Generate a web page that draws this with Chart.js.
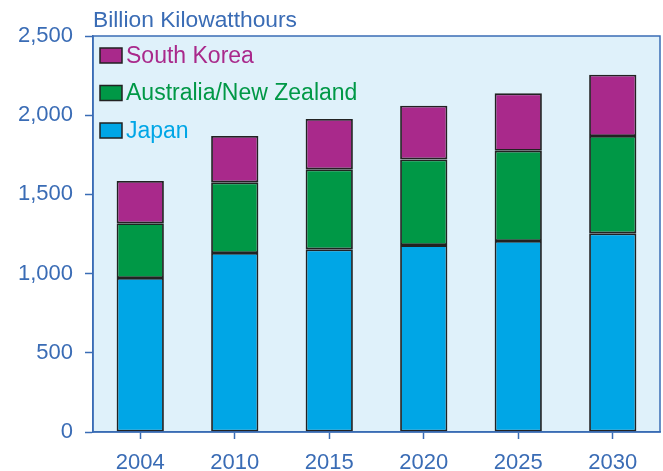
<!DOCTYPE html>
<html>
<head>
<meta charset="utf-8">
<script src="https://cdn.jsdelivr.net/npm/chart.js@4/dist/chart.umd.min.js"></script>
<style>
  html, body { margin: 0; padding: 0; background: #fff; }
  #wrap { width: 663px; height: 471px; position: relative; }
</style>
</head>
<body>
<div id="wrap"><canvas id="mychart" width="663" height="471"></canvas></div>
<script>
var years = ['2004', '2010', '2015', '2020', '2025', '2030'];
var japan = [972, 1130, 1153, 1180, 1206, 1254];
var ausNz = [346, 446, 505, 541, 570, 615];
var southKorea = [267, 293, 318, 339, 362, 387];
var yTicks = [0, 500, 1000, 1500, 2000, 2500];

var axisBlue = '#3a6cb5';
var font = 'Arial, "Liberation Sans", sans-serif';

// light blue plot background plus the frame round it
var plotFrame = {
    id: 'plotFrame',
    beforeDraw: function(chart) {
        var a = chart.chartArea, ctx = chart.ctx;
        ctx.save();
        ctx.fillStyle = '#dff1fa';
        ctx.fillRect(a.left, a.top, a.right - a.left, a.bottom - a.top);
        ctx.restore();
    },
    afterDraw: function(chart) {
        var a = chart.chartArea, ctx = chart.ctx;
        ctx.save();
        ctx.strokeStyle = axisBlue;
        ctx.lineWidth = 1.5;
        ctx.strokeRect(a.left, a.top, a.right - a.left, a.bottom - a.top);
        // unit label above the axis
        ctx.fillStyle = axisBlue;
        ctx.font = '22.8px ' + font;
        ctx.textBaseline = 'alphabetic';
        ctx.fillText('Billion Kilowatthours', a.left, 27);
        ctx.restore();
    }
};

// legend drawn inside the plot, top series first
var innerLegend = {
    id: 'innerLegend',
    afterDatasetsDraw: function(chart) {
        var a = chart.chartArea, ctx = chart.ctx;
        var sets = chart.data.datasets.slice().reverse();
        ctx.save();
        ctx.font = '23px ' + font;
        ctx.textBaseline = 'middle';
        sets.forEach(function(ds, i) {
            var y = a.top + 12 + i * 37.5;
            ctx.fillStyle = ds.backgroundColor;
            ctx.fillRect(a.left + 7, y, 22, 15);
            ctx.strokeStyle = '#222';
            ctx.lineWidth = 1.5;
            ctx.strokeRect(a.left + 7, y, 22, 15);
            ctx.fillStyle = ds.backgroundColor;
            ctx.fillText(ds.label, a.left + 33, y + 8.5);
        });
        ctx.restore();
    }
};

function series(label, data, color) {
    return {
        label: label,
        data: data,
        backgroundColor: color,
        borderColor: '#222',
        borderWidth: 1.8,
        borderSkipped: false,
        barPercentage: 0.5,
        categoryPercentage: 1.0
    };
}

var config = {
    type: 'bar',
    data: {
        labels: years,
        datasets: [
            series('Japan', japan, '#00a6e6'),
            series('Australia/New Zealand', ausNz, '#009846'),
            series('South Korea', southKorea, '#a9298b')
        ]
    },
    options: {
        responsive: false,
        animation: false,
        layout: { padding: { left: 0, top: 36, right: 3, bottom: 0 } },
        plugins: {
            legend: { display: false },
            tooltip: { enabled: false }
        },
        scales: {
            x: {
                stacked: true,
                afterFit: function(scale) { scale.height = 39; },
                grid: {
                    offset: false,
                    drawOnChartArea: false,
                    tickLength: 7,
                    tickWidth: 1.5,
                    tickColor: axisBlue
                },
                border: { color: axisBlue, width: 1.5 },
                ticks: {
                    color: axisBlue,
                    padding: 11,
                    font: { family: font, size: 22 }
                }
            },
            y: {
                stacked: true,
                min: 0,
                max: 2500,
                afterFit: function(scale) { scale.width = 93; },
                afterBuildTicks: function(scale) {
                    scale.ticks = yTicks.map(function(v) { return { value: v }; });
                },
                grid: {
                    drawOnChartArea: false,
                    tickLength: 8,
                    tickWidth: 1.5,
                    tickColor: axisBlue
                },
                border: { color: axisBlue, width: 1.5 },
                ticks: {
                    color: axisBlue,
                    padding: 12,
                    font: { family: font, size: 22 },
                    callback: function(v) { return v.toLocaleString('en-US'); }
                }
            }
        }
    },
    plugins: [plotFrame, innerLegend]
};

var ctx = document.getElementById('mychart').getContext('2d');
window.myBar = new Chart(ctx, config);
</script>
</body>
</html>
